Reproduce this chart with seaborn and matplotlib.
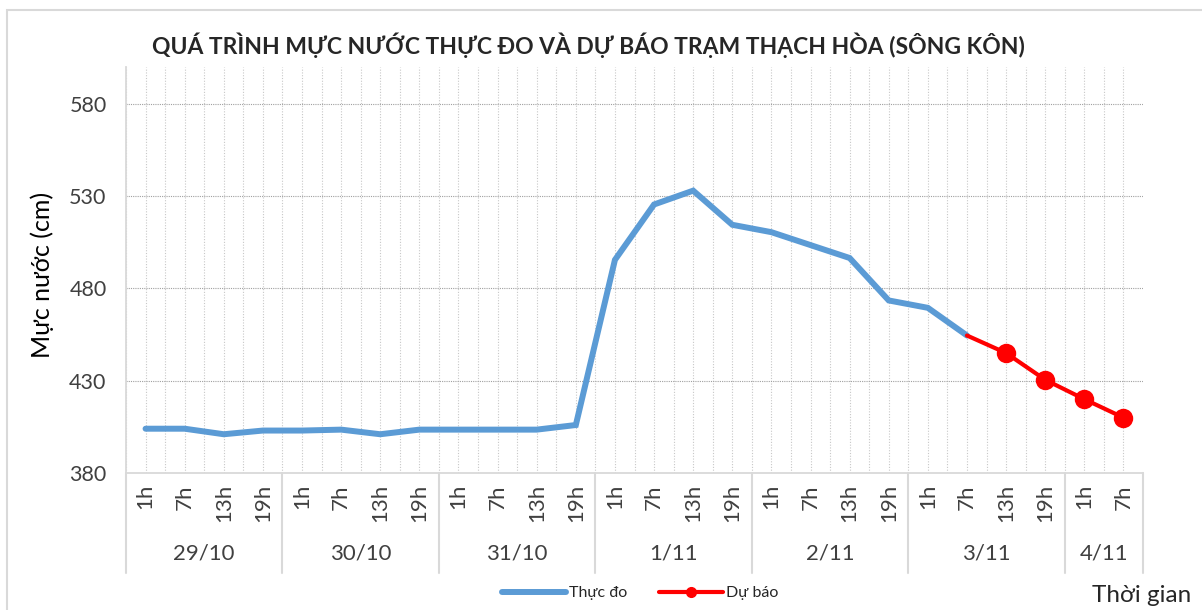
import numpy as np
import pandas as pd
import matplotlib
matplotlib.use("Agg")
import matplotlib.pyplot as plt
import matplotlib.transforms as mtransforms
from matplotlib.lines import Line2D
from matplotlib.patches import Rectangle
import seaborn as sns


# Dữ liệu

ngay = ["29/10", "30/10", "31/10", "1/11", "2/11", "3/11", "4/11"]
so_gio_moi_ngay = [4, 4, 4, 4, 4, 4, 2]
gio = ["1h", "7h", "13h", "19h"] * 6 + ["1h", "7h"]

thuc_do = [404, 404, 401, 403, 403, 403.5, 401, 403.5,
           403.5, 403.5, 403.5, 406,
           495.5, 525.5, 533, 514.5,
           510.5, 503.5, 496.5, 473.5,
           469.5, 454.5]

du_bao = [454.5, 445, 430.5, 420, 410]

yticks = [380, 430, 480, 530, 580]

# Bảng dữ liệu

df_thuc = pd.DataFrame({"x": np.arange(len(thuc_do)), "y": thuc_do})
start = len(thuc_do) - 1
df_du = pd.DataFrame({"x": np.arange(start, start + len(du_bao)), "y": du_bao})

xanh = "#5B9BD5"
do = "#FF0000"
chu = "#404040"

sns.set_style("white")
plt.rcParams["font.family"] = ["Lato", "DejaVu Sans"]

fig = plt.figure(figsize=(12.02, 6.10), dpi=100)
W, H = 1202, 610
ax = fig.add_axes([126 / W, 1 - 473 / H, (1143 - 126) / W, (473 - 67) / H])

# Khung ngoài
fig.patches.append(Rectangle((7 / W, -0.1), 1.2, 1 - 10 / H + 0.1,
                             transform=fig.transFigure, fill=False,
                             edgecolor="#D9D9D9", linewidth=1.5))

sns.lineplot(data=df_thuc, x="x", y="y", ax=ax, color=xanh,
             linewidth=4.3, solid_joinstyle="miter")
sns.lineplot(data=df_du, x="x", y="y", ax=ax, color=do, linewidth=3,
             marker="o", markersize=14, markeredgewidth=0,
             markevery=list(range(1, len(du_bao))))

n = len(gio)
ax.set_xlim(-0.5, n - 0.5)
ax.set_ylim(380, 600)
ax.set_yticks(yticks)
ax.set_yticklabels([str(v) for v in yticks], fontsize=15.5, color=chu)

ax.set_xticks(np.arange(n))
ax.set_xticks(np.arange(n) - 0.5, minor=True)
ax.set_xticklabels([])
ax.tick_params(axis="both", which="both", length=0)
ax.tick_params(axis="y", pad=14)

ax.grid(axis="x", which="both", linestyle=(0, (1, 1.5)), color="#C8C8C8",
        linewidth=0.8)
ax.grid(axis="y", which="major", linestyle=(0, (1, 1)), color="#A0A0A0",
        linewidth=0.8)

for s in ["top", "right"]:
    ax.spines[s].set_visible(False)
ax.spines["left"].set_color("#D9D9D9")
ax.spines["bottom"].set_color("#D9D9D9")
ax.spines["left"].set_linewidth(1.3)
ax.spines["bottom"].set_linewidth(1.3)

ax.set_xlabel("")
ax.set_ylabel("")
fig.text(42 / W, 1 - 275 / H, "Mực nước (cm)", rotation=90, ha="center",
         va="center", fontsize=18, color="black")

# Nhãn trục x hai cấp
trans = mtransforms.blended_transform_factory(ax.transData, ax.transAxes)
y_gio = -11 / (473 - 67)
y_ngay = -80 / (473 - 67)
y_day = -100 / (473 - 67)
for i, g in enumerate(gio):
    ax.text(i, y_gio, g, rotation=90, ha="center", va="top",
            fontsize=16, color=chu, transform=trans)

pos = -0.5
ranh_gioi = [pos]
for d, k in zip(ngay, so_gio_moi_ngay):
    ax.text(pos + k / 2, y_ngay, d, ha="center", va="center",
            fontsize=16, color=chu, transform=trans)
    pos += k
    ranh_gioi.append(pos)
for b in ranh_gioi:
    ax.plot([b, b], [0, y_day], color="#D9D9D9", linewidth=1.5,
            transform=trans, clip_on=False)

fig.text(588 / W, 1 - 45 / H,
         "QUÁ TRÌNH MỰC NƯỚC THỰC ĐO VÀ DỰ BÁO TRẠM THẠCH HÒA (SÔNG KÔN)",
         ha="center", va="center", fontsize=16.5, fontweight="bold")

# Chú giải
handles = [Line2D([], [], color=xanh, linewidth=4.3),
           Line2D([], [], color=do, linewidth=3, marker="o", markersize=7)]
fig.legend(handles, ["Thực đo", "Dự báo"], loc="center",
           bbox_to_anchor=(640 / W, 1 - 593 / H), ncol=2, frameon=False,
           fontsize=11.5, handlelength=4, handletextpad=0.2, columnspacing=2)

fig.text(1092 / W, 1 - 596 / H, "Thời gian", ha="left", va="center",
         fontsize=17.5, color="#262626")

fig.savefig("out.png", dpi=100)
